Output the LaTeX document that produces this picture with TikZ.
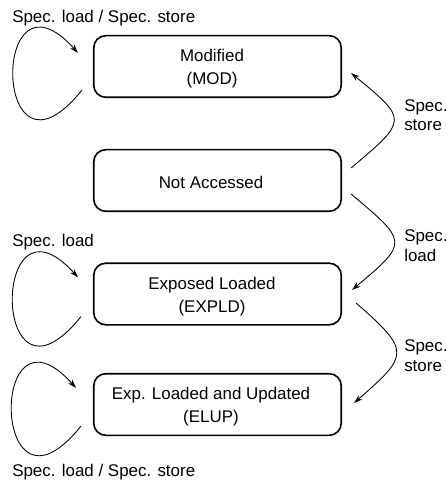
\documentclass[tikz,border=0pt]{standalone}
\usepackage{fontspec}
\setmainfont{Liberation Sans}
\usetikzlibrary{arrows.meta,calc,positioning}

\tikzset{
  state/.style={draw, line width=1.2pt, rounded corners=9pt, minimum width=185.6pt, minimum height=46.2pt},
  statetext/.style={align=center, inner sep=0pt, font=\fontsize{12.7}{17.3}\selectfont},
  edge/.style={line width=0.65pt, -{Stealth[length=6.5pt,width=4.2pt]}},
  edgelabel/.style={align=left, inner sep=0pt, font=\fontsize{12.7}{14.6}\selectfont},
}

\begin{document}
\begin{tikzpicture}[x=0.75pt,y=0.75pt]
    \useasboundingbox (0,0) rectangle (446,-484);

    % States
    \node[state] (mod) at (217.5,-66.5) {};
    \node[statetext] (modtext) at (212,-69) {Modified\\(MOD)};
    \node[state] (na) at (217.5,-180.5) {};
    \node[statetext] (natext) at (211,-182) {Not Accessed};
    \node[state] (expld) at (217.5,-294) {};
    \node[statetext] (expldtext) at (212,-296.5) {Exposed Loaded\\(EXPLD)};
    \node[state] (elup) at (217.5,-404.5) {};
    \node[statetext] (eluptext) at (211,-407) {Exp. Loaded and Updated\\(ELUP)};

    % Self loops
    \draw[edge] ($(mod.south west)+(-11,8)$) .. controls +(-90,-112) and +(-88,98) .. ($(mod.north west)+(-15,-18)$);
    \draw[edge] ($(expld.south west)+(-12,9)$) .. controls +(-90,-112) and +(-88,98) .. ($(expld.north west)+(-15,-15)$);
    \draw[edge] ($(elup.south west)+(-12,10)$) .. controls +(-90,-112) and +(-88,98) .. ($(elup.north west)+(-17,-15)$);

    % Transitions
    \draw[edge] ($(na.east)+(9,12.5)$) .. controls +(57,48) and +(57,-47) .. ($(mod.east)+(9,-6.5)$);
    \draw[edge] ($(na.east)+(9,-13.5)$) .. controls +(57,-48) and +(57,48) .. ($(expld.east)+(10,4)$);
    \draw[edge] ($(expld.east)+(14,-9)$) .. controls +(55,-48) and +(55,48) .. ($(elup.east)+(12,1.5)$);

    % Labels
    \node[edgelabel, anchor=base west] (lmod) at (12,-22.5) {Spec. load / Spec. store};
    \node[edgelabel, anchor=base west] (lexpld) at (12,-246) {Spec. load};
    \node[edgelabel, anchor=base west] (lelup) at (12,-476.5) {Spec. load / Spec. store};
    \node[edgelabel, anchor=base west] (lstore) at (404,-130.5) {Spec.\\store};
    \node[edgelabel, anchor=base west] (lload) at (404,-261) {Spec.\\load};
    \node[edgelabel, anchor=base west] (lstore2) at (404,-371) {Spec.\\store};
\end{tikzpicture}
\end{document}
